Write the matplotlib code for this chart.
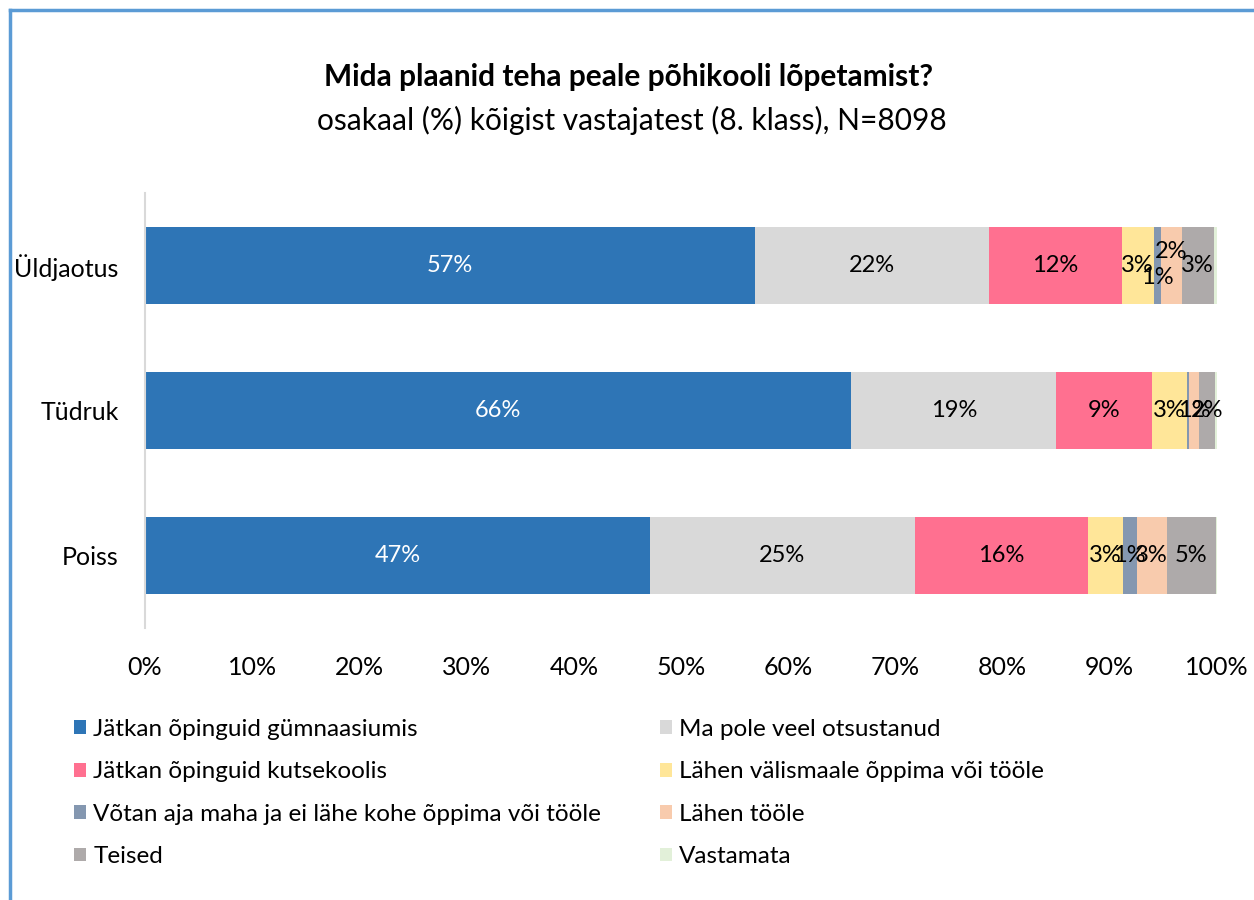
import matplotlib
matplotlib.use("Agg")
import matplotlib.pyplot as plt
from matplotlib.patches import Patch
from matplotlib.lines import Line2D
import numpy as np

plt.rcParams['font.family'] = ['Lato', 'DejaVu Sans']

categories = ["Üldjaotus", "Tüdruk", "Poiss"]
series_names = [
    "Jätkan õpinguid gümnaasiumis",
    "Ma pole veel otsustanud",
    "Jätkan õpinguid kutsekoolis",
    "Lähen välismaale õppima või tööle",
    "Võtan aja maha ja ei lähe kohe õppima või tööle",
    "Lähen tööle",
    "Teised",
    "Vastamata",
]
colors = ["#2E75B6", "#D9D9D9", "#FF7090", "#FFE699", "#8497B0", "#F8CBAD", "#AEAAAA", "#E2F0D9"]
# rows: categories, columns: series (percent)
values = np.array([
    [56.9, 21.8, 12.4, 3.0, 0.7, 1.9, 3.0, 0.3],
    [65.9, 19.1, 8.9, 3.3, 0.2, 0.9, 1.5, 0.2],
    [47.1, 24.7, 16.2, 3.2, 1.3, 2.8, 4.6, 0.1],
])
x_ticks = [0, 10, 20, 30, 40, 50, 60, 70, 80, 90, 100]

fig = plt.figure(figsize=(12.54, 9), dpi=100)
ax = fig.add_axes([145/1254, 1 - 628/900, (1217-145)/1254, (628-193)/900])

y = np.arange(len(categories))
left = np.zeros(len(categories))
bar_h = 0.53
# manual label offsets (points, + = up) for crowded segments: (category, series) -> dy
label_offsets = {(0, 4): -9, (0, 5): 10}
for j, name in enumerate(series_names):
    vals = values[:, j]
    ax.barh(y, vals, left=left, height=bar_h, color=colors[j], edgecolor='none', label=name)
    if j < 7:
        for i in range(len(categories)):
            v = vals[i]
            txt = f"{v:.0f}%"
            if txt == "0%":
                continue
            cx = left[i] + v / 2
            dy = label_offsets.get((i, j), 0)
            ax.annotate(txt, (cx, y[i]), xytext=(0, dy), textcoords='offset points',
                        ha='center', va='center', fontsize=17,
                        color='white' if j == 0 else '#000000')
    left += vals

ax.set_xlim(0, 100)
ax.set_ylim(2.5, -0.5)
ax.set_yticks(y)
ax.set_yticklabels(categories, fontsize=18)
ax.set_xticks(x_ticks)
ax.set_xticklabels([f"{t}%" for t in x_ticks], fontsize=18)
ax.tick_params(axis='both', length=0)
ax.tick_params(axis='y', pad=19)
ax.tick_params(axis='x', pad=20)
for s in ['top', 'right', 'bottom']:
    ax.spines[s].set_visible(False)
ax.spines['left'].set_color('#D9D9D9')
ax.spines['left'].set_linewidth(1.5)

fig.text(628/1254, 1 - 77/900, "Mida plaanid teha peale põhikooli lõpetamist?",
         ha='center', va='center', fontsize=21.5, fontweight='bold')
fig.text(632/1254, 1 - 120/900, "osakaal (%) kõigist vastajatest (8. klass), N=8098",
         ha='center', va='center', fontsize=21.5)

handles = [Patch(facecolor=c, edgecolor='none') for c in colors]
order = [0, 2, 4, 6, 1, 3, 5, 7]
leg = fig.legend([handles[k] for k in order], [series_names[k] for k in order],
                 ncol=2, loc='upper left', bbox_to_anchor=(74/1254, 1 - 719/900),
                 frameon=False, fontsize=17.5, handlelength=0.5, handleheight=0.5,
                 handletextpad=0.3, columnspacing=2.4, labelspacing=0.88, borderaxespad=0,
                 borderpad=0)

# chart border (blue) at top and left
fig.add_artist(Line2D([10/1254, 10/1254], [0, 1 - 10/900], transform=fig.transFigure,
                      color='#5B9BD5', linewidth=2.5))
fig.add_artist(Line2D([10/1254, 1], [1 - 10/900, 1 - 10/900], transform=fig.transFigure,
                      color='#5B9BD5', linewidth=2.5))

fig.savefig("out.png", dpi=100)
